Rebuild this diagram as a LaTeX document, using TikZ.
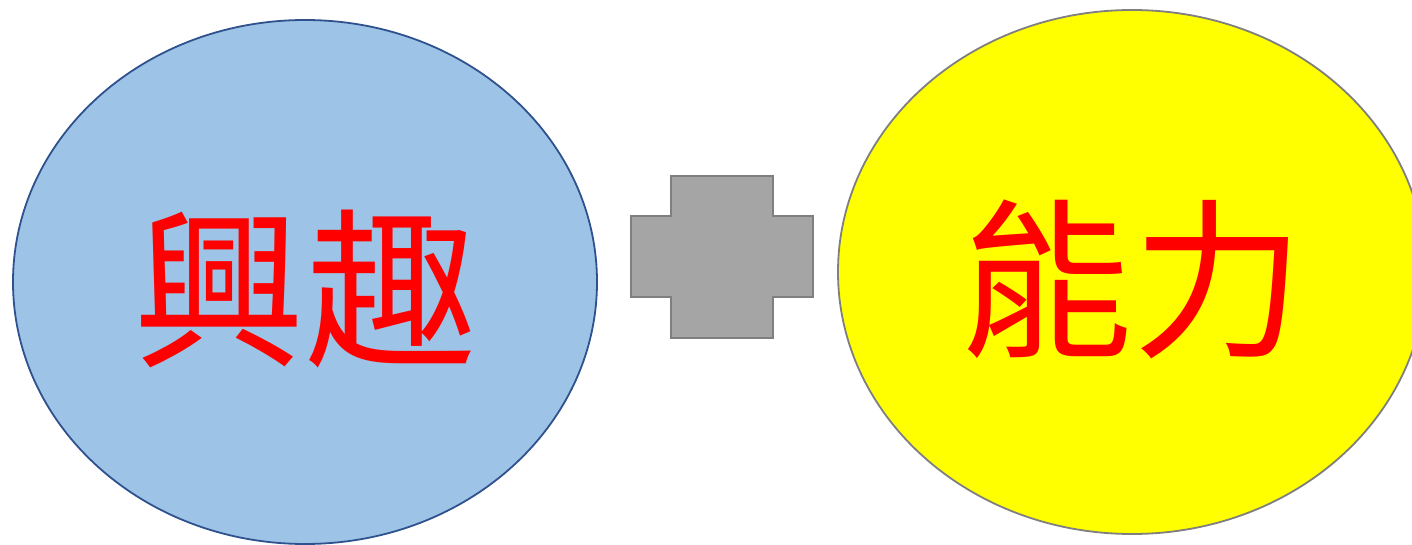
\documentclass[tikz,border=0pt]{standalone}
\usepackage{fontspec}
\newfontfamily\cjk{Noto Sans CJK TC}
\usetikzlibrary{shapes.geometric}
\definecolor{lblue}{HTML}{9DC3E6}
\definecolor{dblue}{HTML}{2F528F}
\definecolor{gborder}{HTML}{7F7F7F}
\definecolor{gfill}{HTML}{A5A5A5}
\definecolor{pureyellow}{RGB}{255,255,0}
\definecolor{pured}{RGB}{255,0,0}
\tikzset{
  bubble/.style={ellipse, inner sep=0pt, minimum width=584pt, minimum height=524pt, line width=1.8pt, text=pured, font=\cjk\fontsize{172}{172}\selectfont},
}
\begin{document}
\begin{tikzpicture}[x=1pt,y=1pt]
\useasboundingbox (0,0) rectangle (1412,544);
\node[bubble, fill=lblue, draw=dblue] (interest) at (305,262) {\raisebox{-7pt}[\height][\depth]{興趣}};
\node[bubble, fill=pureyellow, draw=gborder, minimum width=588pt] (ability) at (1132,272) {\raisebox{-7pt}[\height][\depth]{能力}};
\draw[fill=gfill, draw=gborder, line width=1.8pt]
  (671,368) -- (773,368) -- (773,328) -- (813,328) -- (813,247) -- (773,247)
  -- (773,206) -- (671,206) -- (671,247) -- (631,247) -- (631,328) -- (671,328) -- cycle;
\end{tikzpicture}
\end{document}
